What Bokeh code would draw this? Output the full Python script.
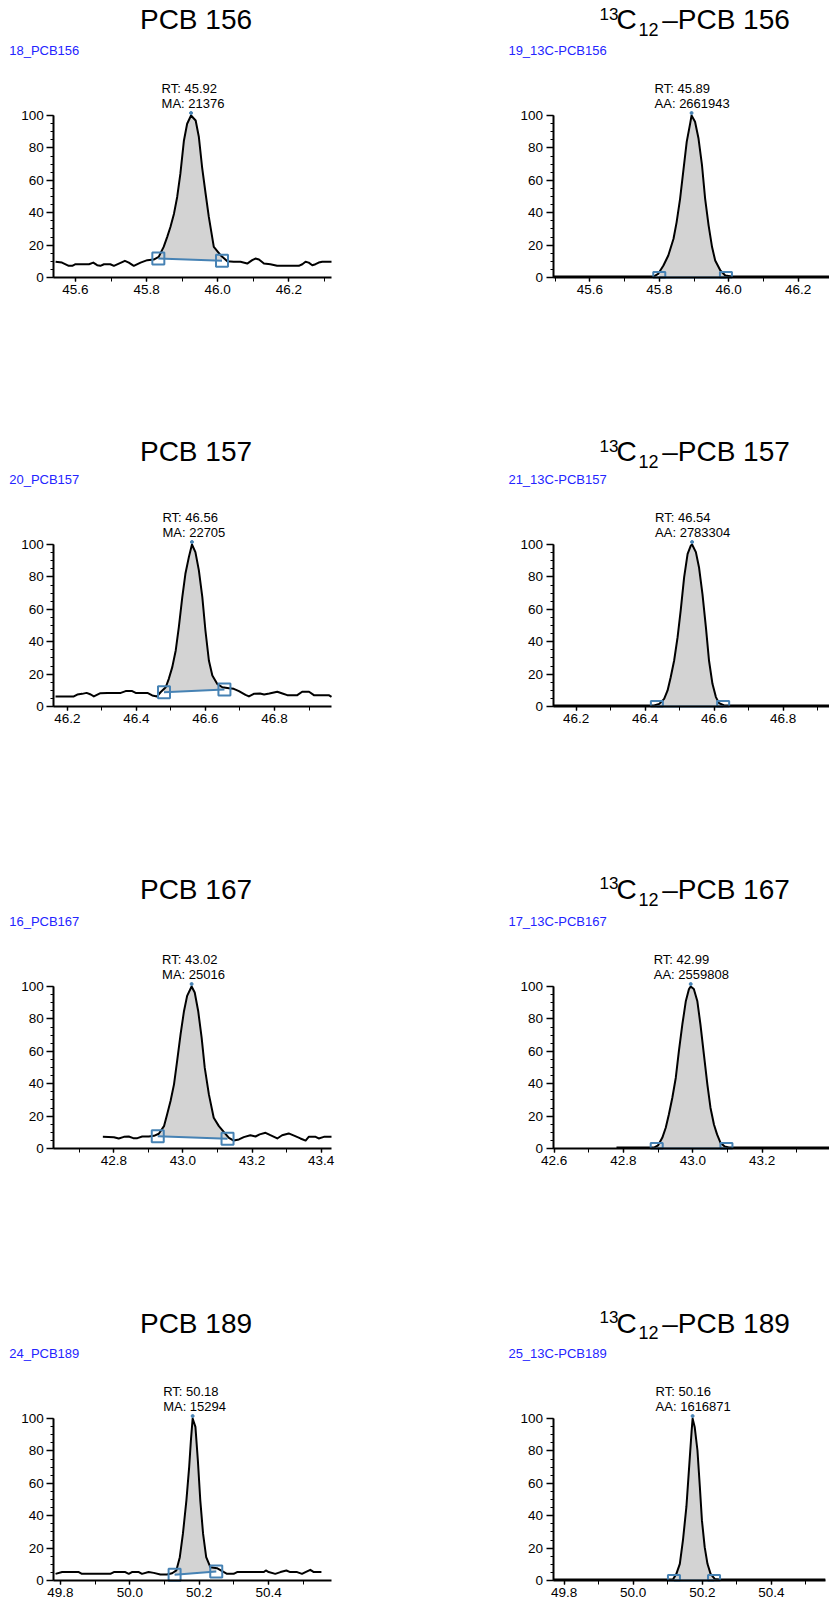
import numpy as np
from bokeh.plotting import figure
from bokeh.models import Range1d, Label, SingleIntervalTicker, PrintfTickFormatter
from bokeh.layouts import column, row
from bokeh.embed import file_html
from bokeh.resources import INLINE

# ---------------- data ----------------
# PCB 156 (native), relative abundance vs retention time (min)
pcb156_t = [45.544, 45.562, 45.581, 45.591, 45.600, 45.638, 45.650, 45.661, 45.670, 45.680, 45.698, 45.708,
            45.722, 45.739, 45.750, 45.764, 45.783, 45.802, 45.820, 45.834, 45.848, 45.858, 45.867, 45.877,
            45.886, 45.895, 45.905, 45.914, 45.925, 45.938, 45.947, 45.956, 45.966, 45.975, 45.989, 46.008,
            46.027, 46.045, 46.064, 46.083, 46.097, 46.106, 46.116, 46.130, 46.148, 46.167, 46.195, 46.228,
            46.238, 46.247, 46.256, 46.266, 46.275, 46.284, 46.294, 46.320]
pcb156_i = [9.7, 9.2, 7.2, 7.2, 8.2, 8.2, 9.2, 7.6, 7.2, 8.2, 8.2, 7.2, 8.6, 10.3, 9.2, 7.2, 9.2, 10.7, 11.1,
            12.7, 18.9, 25.1, 31.2, 39.4, 49.7, 64.1, 84.6, 94.9, 100, 96.9, 86.7, 68.2, 51.7, 37.4, 18.9, 13.8,
            10.1, 9.7, 9.7, 8.6, 10.7, 11.7, 11.1, 8.6, 8.2, 7.2, 7.2, 7.2, 8.2, 9.7, 9.2, 7.6, 8.2, 9.2, 9.7, 9.7]
# 13C12-PCB 156
c13_156_t = [45.494, 45.783, 45.797, 45.812, 45.826, 45.841, 45.850, 45.860, 45.870, 45.879, 45.889, 45.893,
             45.903, 45.913, 45.923, 45.932, 45.942, 45.952, 45.961, 45.976, 45.990, 46.009, 46.291]
c13_156_i = [0.6, 0.6, 2.3, 7.4, 13.6, 23.9, 34.2, 48.7, 67.2, 83.7, 95.1, 100, 96.1, 85.8, 69.3, 48.7, 32.2,
             18.8, 10.5, 4.3, 1.2, 0.6, 0.6]
# PCB 157
pcb157_t = [46.166, 46.219, 46.229, 46.243, 46.256, 46.268, 46.277, 46.296, 46.316, 46.355, 46.369, 46.388,
            46.398, 46.432, 46.446, 46.460, 46.470, 46.485, 46.494, 46.504, 46.514, 46.523, 46.533, 46.542,
            46.552, 46.561, 46.571, 46.581, 46.591, 46.600, 46.610, 46.620, 46.634, 46.649, 46.668, 46.682,
            46.697, 46.716, 46.726, 46.740, 46.758, 46.770, 46.785, 46.808, 46.823, 46.837, 46.866, 46.880,
            46.900, 46.914, 46.957, 46.965]
pcb157_i = [6.2, 6.2, 7.4, 7.8, 8.4, 7.4, 6.2, 8.2, 8.4, 8.4, 9.5, 9.5, 8.4, 8.4, 6.8, 6.2, 8.8, 11.9, 17.1,
            24.3, 34.6, 49.0, 67.5, 81.9, 92.2, 100, 95.3, 84.0, 67.5, 46.9, 28.4, 19.1, 14.0, 11.9, 11.3, 10.9,
            9.5, 7.2, 6.2, 7.8, 8.0, 7.4, 8.0, 9.1, 8.0, 7.0, 7.0, 9.1, 9.1, 7.0, 7.0, 5.9]
# 13C12-PCB 157
c13_157_t = [46.133, 46.426, 46.441, 46.455, 46.465, 46.474, 46.484, 46.494, 46.503, 46.513, 46.523, 46.532,
             46.536, 46.547, 46.556, 46.566, 46.576, 46.585, 46.595, 46.605, 46.614, 46.629, 46.643, 46.935]
c13_157_i = [0.6, 0.6, 1.6, 4.7, 9.9, 18.1, 28.4, 42.8, 59.3, 79.8, 94.2, 99.2, 100, 95.3, 86.0, 69.5, 49.0,
             28.4, 14.0, 5.8, 2.1, 0.6, 0.6, 0.6]
# PCB 167
pcb167_t = [42.768, 42.800, 42.814, 42.829, 42.843, 42.856, 42.868, 42.882, 42.901, 42.916, 42.930, 42.945,
            42.954, 42.964, 42.974, 42.983, 42.993, 43.003, 43.012, 43.025, 43.034, 43.044, 43.054, 43.063,
            43.075, 43.089, 43.104, 43.118, 43.133, 43.147, 43.162, 43.176, 43.195, 43.210, 43.222, 43.239,
            43.253, 43.273, 43.287, 43.306, 43.325, 43.340, 43.355, 43.364, 43.384, 43.393, 43.408, 43.430]
pcb167_i = [7.2, 7.0, 6.2, 7.2, 7.4, 6.4, 6.4, 7.4, 7.4, 7.8, 9.1, 13.8, 21.0, 29.3, 39.6, 54.0, 70.5, 84.9,
            94.2, 100, 96.3, 84.9, 68.5, 49.9, 33.4, 19.0, 13.8, 10.3, 6.6, 4.9, 5.6, 7.0, 8.2, 7.4, 8.7, 9.7,
            8.2, 6.2, 8.2, 9.3, 7.6, 6.2, 4.9, 7.2, 7.2, 6.2, 7.2, 7.2]
# 13C12-PCB 167
c13_167_t = [42.780, 42.888, 42.900, 42.912, 42.922, 42.931, 42.941, 42.951, 42.960, 42.970, 42.980, 42.989,
             42.994, 43.003, 43.013, 43.022, 43.032, 43.042, 43.051, 43.061, 43.070, 43.080, 43.092, 43.104,
             43.395]
c13_167_i = [0.6, 0.6, 2.0, 6.6, 12.8, 21.0, 31.3, 43.7, 60.2, 76.7, 91.1, 98.4, 100, 98.4, 91.1, 76.7, 58.1,
             39.6, 25.2, 14.8, 8.7, 3.5, 1.2, 0.6, 0.6]
# PCB 189
pcb189_t = [49.786, 49.805, 49.853, 49.862, 49.944, 49.954, 49.987, 49.997, 50.006, 50.026, 50.035, 50.054,
            50.069, 50.088, 50.107, 50.122, 50.134, 50.144, 50.153, 50.163, 50.171, 50.176, 50.181, 50.189,
            50.196, 50.203, 50.211, 50.220, 50.232, 50.251, 50.266, 50.280, 50.299, 50.309, 50.386, 50.392,
            50.400, 50.419, 50.434, 50.451, 50.462, 50.482, 50.496, 50.506, 50.520, 50.530, 50.552]
pcb189_i = [4.1, 5.2, 5.2, 4.1, 4.1, 5.2, 5.2, 4.1, 5.2, 5.2, 4.1, 5.2, 4.7, 3.7, 3.7, 4.5, 6.2, 14.4, 28.9,
            49.5, 70.1, 86.6, 100, 94.8, 74.2, 49.5, 28.9, 14.4, 8.2, 7.6, 5.8, 4.1, 4.1, 5.2, 5.2, 6.2, 5.2,
            4.1, 5.2, 6.2, 5.2, 5.2, 4.1, 5.2, 6.6, 5.2, 5.2]
# 13C12-PCB 189
c13_189_t = [49.768, 50.115, 50.125, 50.135, 50.144, 50.154, 50.164, 50.169, 50.172, 50.178, 50.186, 50.193,
             50.199, 50.207, 50.215, 50.224, 50.236, 50.250, 50.556]
c13_189_i = [0.6, 0.6, 4.1, 10.3, 24.7, 45.4, 76.3, 91.8, 100, 94.8, 80.4, 57.7, 37.1, 20.6, 10.3, 4.1, 1.0,
             0.6, 0.6]

# integration start/end (time, baseline level)
native_int_t = [[45.833, 46.012], [46.480, 46.655], [42.927, 43.129], [50.129, 50.249]]
native_int_y = [[11.7, 10.3], [8.8, 10.5], [7.6, 6.0], [3.5, 5.6]]
label_int_t = [[45.800, 45.992], [46.434, 46.626], [42.896, 43.097], [50.118, 50.234]]
label_int_y = [[0.0, 0.0], [0.0, 0.0], [0.0, 0.0], [0.0, 0.0]]

# axis extents (minutes)
native_xlim = [[45.539, 46.320], [46.161, 46.965], [42.626, 43.430], [49.781, 50.581]]
label_xlim = [[45.494, 46.291], [46.133, 46.935], [42.597, 43.395], [49.768, 50.556]]

# texts
congeners = ["156", "157", "167", "189"]
native_ids = ["18_PCB156", "20_PCB157", "16_PCB167", "24_PCB189"]
label_ids = ["19_13C-PCB156", "21_13C-PCB157", "17_13C-PCB167", "25_13C-PCB189"]
native_rt = ["45.92", "46.56", "43.02", "50.18"]
native_ma = ["21376", "22705", "25016", "15294"]
label_rt = ["45.89", "46.54", "42.99", "50.16"]
label_aa = ["2661943", "2783304", "2559808", "1616871"]

native_t = [pcb156_t, pcb157_t, pcb167_t, pcb189_t]
native_i = [pcb156_i, pcb157_i, pcb167_i, pcb189_i]
label_t = [c13_156_t, c13_157_t, c13_167_t, c13_189_t]
label_i = [c13_156_i, c13_157_i, c13_167_i, c13_189_i]

# ---------------- styling / layout ----------------
FONT = "Liberation Sans"
MARK = "#4682b4"
ID_BLUE = "#2424ff"
FILL = "#d3d3d3"

PLOT_H = 162                      # value 0 -> value 100, px
ROW_H = [427, 442, 432, 310]
TOP100 = [115, 117, 117, 117]     # figure top -> value 100, px
TITLE_GAP = [84.3, 81.3, 85.7, 84.0]
COL_W = [420, 409]
AXIS_PX = [53.3, 132.5]
PLOT_W = [[277.7, 276.8], [277.7, 276.8], [277.7, 276.8], [277.7, 272.3]]
PXY = 100.0 / PLOT_H              # data units per px (vertical)


def gy(px_above_100, size):
    # baseline position, corrected for how the label anchor is rendered
    return 100.0 + (px_above_100 + 0.347 * size + 1.5) * PXY


def make_panel(r, c, t, i, int_t, int_y, xlim, rt, area_tag, area, ident):
    w, h = COL_W[c], ROW_H[r]
    xmin, xmax = xlim
    s = PLOT_W[r][c] / (xmax - xmin)
    x0 = xmin - AXIS_PX[c] / s
    x1 = x0 + w / s
    y1 = 100.0 + TOP100[r] * PXY
    y0 = -(h - TOP100[r] - PLOT_H) * PXY

    def px2x(px):
        return xmin + px / s

    p = figure(width=w, height=h, x_range=Range1d(x0, x1), y_range=Range1d(y0, y1),
               output_backend="svg", toolbar_location=None, tools="",
               min_border=0, outline_line_color=None)
    p.xgrid.visible = False
    p.ygrid.visible = False

    # axes
    p.yaxis.fixed_location = xmin
    p.yaxis.bounds = (0, 100)
    p.yaxis.ticker = SingleIntervalTicker(interval=20, num_minor_ticks=4)
    p.xaxis.fixed_location = 0
    p.xaxis.bounds = (xmin, xmax)
    p.xaxis.ticker = SingleIntervalTicker(interval=0.2, num_minor_ticks=2)
    p.xaxis.formatter = PrintfTickFormatter(format="%.1f")
    for ax in (p.xaxis, p.yaxis):
        ax.axis_line_width = 2
        ax.axis_line_color = "black"
        ax.major_tick_line_color = "black"
        ax.minor_tick_line_color = "black"
        ax.major_tick_line_width = 1.5
        ax.major_tick_in = 0
        ax.minor_tick_in = 0
        ax.major_label_text_font = FONT
        ax.major_label_text_font_size = "13.5px"
        ax.major_label_text_color = "black"
        ax.major_label_standoff = 3
    p.xaxis.major_tick_out = 4
    p.xaxis.minor_tick_out = 4
    p.yaxis.major_tick_out = 7
    p.yaxis.minor_tick_out = 3

    # integrated area
    ta = np.array(t)
    ia = np.array(i)
    ts, te = int_t
    bs, be = int_y
    inside = (ta > ts) & (ta < te)
    xs = [ts, ts] + list(ta[inside]) + [te, te]
    ys = [bs, float(np.interp(ts, ta, ia))] + list(ia[inside]) + [float(np.interp(te, ta, ia)), be]
    p.patch(xs, ys, fill_color=FILL, line_color=None)

    # trace
    p.line(t, i, line_color="black", line_width=2, line_join="round")

    # baseline and integration markers
    p.line(int_t, int_y, line_color=MARK, line_width=2)
    if c == 0:
        p.scatter(int_t, int_y, marker="square", size=12, fill_color=None,
                  line_color=MARK, line_width=2)
    else:
        half = 6.0 / s
        p.quad(left=[v - half for v in int_t], right=[v + half for v in int_t],
               bottom=[0, 0], top=[5.5 * PXY, 5.5 * PXY],
               fill_color=None, line_color=MARK, line_width=2)

    # apex marker
    apex = float(ta[np.argmax(ia)])
    p.scatter([apex], [100 + 2.5 * PXY], size=3, color=MARK)

    # peak annotation
    off = -29.5 if c == 0 else -37.0
    p.add_layout(Label(x=apex, y=gy(20.5, 13), x_offset=off, text="RT: " + rt, text_color="black",
                       text_font=FONT, text_font_size="13px", text_baseline="alphabetic"))
    p.add_layout(Label(x=apex, y=gy(5.5, 13), x_offset=off, text=area_tag + ": " + area, text_color="black",
                       text_font=FONT, text_font_size="13px", text_baseline="alphabetic"))

    # compound id
    p.add_layout(Label(x=px2x(-44.6), y=gy(59, 13), text=ident, text_color=ID_BLUE,
                       text_font=FONT, text_font_size="13px", text_baseline="alphabetic"))

    # title
    tg = TITLE_GAP[r]
    if c == 0:
        p.add_layout(Label(x=px2x(142.2), y=gy(tg, 28), text="PCB " + congeners[r], text_align="center",
                           text_color="black", text_font=FONT, text_font_size="28px",
                           text_baseline="alphabetic"))
    else:
        p.add_layout(Label(x=px2x(46.6), y=gy(tg + 10, 17), text="13", text_color="black",
                           text_font=FONT, text_font_size="17px", text_baseline="alphabetic"))
        p.add_layout(Label(x=px2x(63.4), y=gy(tg, 28), text="C", text_color="black",
                           text_font=FONT, text_font_size="28px", text_baseline="alphabetic"))
        p.add_layout(Label(x=px2x(85.5), y=gy(tg - 6, 18), text="12", text_color="black",
                           text_font=FONT, text_font_size="18px", text_baseline="alphabetic"))
        p.add_layout(Label(x=px2x(109.2), y=gy(tg, 28), text="\u2013PCB " + congeners[r], text_color="black",
                           text_font=FONT, text_font_size="28px", text_baseline="alphabetic"))
    return p


rows = []
for r in range(4):
    left = make_panel(r, 0, native_t[r], native_i[r], native_int_t[r], native_int_y[r],
                      native_xlim[r], native_rt[r], "MA", native_ma[r], native_ids[r])
    right = make_panel(r, 1, label_t[r], label_i[r], label_int_t[r], label_int_y[r],
                       label_xlim[r], label_rt[r], "AA", label_aa[r], label_ids[r])
    rows.append(row(left, right))

layout = column(*rows)
open("out.html", "w").write(file_html(layout, INLINE))
